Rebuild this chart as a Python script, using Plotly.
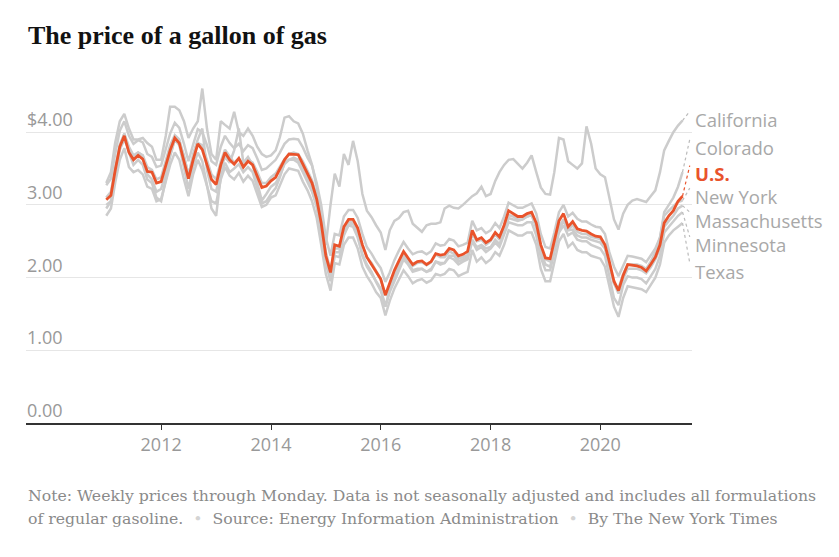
import plotly.graph_objects as go
import pandas as pd

# Monthly values (first of month), Jan 2011 - Jul 2021, dollars per gallon
start_month = "2011-01-01"

us = [
    3.07, 3.13, 3.47, 3.80, 3.95, 3.72, 3.62, 3.68, 3.63, 3.46, 3.45, 3.30,
    3.32, 3.55, 3.75, 3.92, 3.85, 3.60, 3.36, 3.62, 3.84, 3.76, 3.56, 3.35,
    3.28, 3.55, 3.72, 3.62, 3.56, 3.64, 3.52, 3.60, 3.55, 3.40, 3.24, 3.26,
    3.33, 3.38, 3.50, 3.62, 3.70, 3.70, 3.69, 3.56, 3.42, 3.30, 3.08, 2.75,
    2.30, 2.07, 2.45, 2.43, 2.70, 2.80, 2.80, 2.68, 2.45, 2.28, 2.18, 2.08,
    1.98, 1.76, 1.93, 2.10, 2.23, 2.36, 2.27, 2.18, 2.22, 2.23, 2.18, 2.22,
    2.33, 2.31, 2.32, 2.40, 2.38, 2.30, 2.32, 2.36, 2.65, 2.52, 2.55, 2.48,
    2.52, 2.62, 2.56, 2.72, 2.92, 2.88, 2.84, 2.84, 2.88, 2.90, 2.75, 2.45,
    2.27, 2.26, 2.50, 2.78, 2.88, 2.70, 2.77, 2.67, 2.65, 2.64, 2.60, 2.57,
    2.56, 2.45, 2.22, 1.95, 1.82, 2.03, 2.18, 2.17, 2.16, 2.14, 2.09, 2.18,
    2.28, 2.45, 2.75, 2.85, 2.92, 3.05, 3.12,
]

california = [
    3.30, 3.45, 3.85, 4.15, 4.25, 4.05, 3.90, 3.90, 3.92, 3.85, 3.80, 3.62,
    3.62, 3.95, 4.35, 4.35, 4.30, 4.15, 3.92, 4.05, 4.15, 4.60, 4.05, 3.70,
    3.62, 4.15, 4.10, 4.05, 4.28, 4.00, 3.95, 4.05, 3.95, 3.80, 3.70, 3.66,
    3.68, 3.75, 3.93, 4.20, 4.22, 4.15, 4.12, 3.98, 3.75, 3.55, 3.25, 2.85,
    2.45, 3.00, 3.43, 3.25, 3.70, 3.55, 3.88, 3.60, 3.15, 2.92, 2.83, 2.72,
    2.62, 2.38, 2.65, 2.78, 2.82, 2.90, 2.92, 2.74, 2.68, 2.63, 2.72, 2.74,
    2.74, 2.76, 2.95, 2.99, 2.96, 2.95, 3.00, 3.06, 3.12, 3.16, 3.25, 3.12,
    3.15, 3.33, 3.45, 3.55, 3.62, 3.63, 3.56, 3.50, 3.58, 3.68, 3.45, 3.24,
    3.15, 3.14, 3.45, 3.92, 3.90, 3.60, 3.55, 3.50, 3.57, 4.08, 3.84, 3.50,
    3.42, 3.38, 3.10, 2.80, 2.66, 2.88, 3.00, 3.06, 3.08, 3.06, 3.04, 3.12,
    3.20, 3.45, 3.75, 3.88, 4.00, 4.09, 4.16,
]

colorado = [
    3.00, 3.05, 3.40, 3.78, 3.98, 3.72, 3.55, 3.62, 3.55, 3.35, 3.30, 3.10,
    3.05, 3.35, 3.68, 3.90, 3.82, 3.50, 3.22, 3.52, 3.72, 3.60, 3.28, 2.95,
    2.85, 3.40, 3.58, 3.45, 3.50, 3.56, 3.45, 3.52, 3.45, 3.22, 3.02, 3.05,
    3.15, 3.23, 3.38, 3.58, 3.62, 3.62, 3.58, 3.45, 3.30, 3.18, 2.98, 2.62,
    2.20, 1.95, 2.30, 2.28, 2.58, 2.72, 2.70, 2.55, 2.32, 2.18, 2.08, 1.94,
    1.82, 1.60, 1.80, 1.95, 2.10, 2.25, 2.18, 2.08, 2.10, 2.12, 2.08, 2.10,
    2.22, 2.20, 2.20, 2.30, 2.30, 2.22, 2.25, 2.28, 2.52, 2.42, 2.45, 2.40,
    2.42, 2.52, 2.46, 2.62, 2.82, 2.80, 2.78, 2.80, 2.84, 2.86, 2.68, 2.35,
    2.18, 2.15, 2.40, 2.66, 2.78, 2.65, 2.66, 2.58, 2.55, 2.55, 2.52, 2.50,
    2.48, 2.40, 2.15, 1.92, 1.85, 2.05, 2.18, 2.18, 2.18, 2.16, 2.12, 2.22,
    2.35, 2.55, 2.90, 3.00, 3.10, 3.25, 3.45,
]

new_york = [
    3.27, 3.36, 3.70, 4.02, 4.15, 3.95, 3.84, 3.89, 3.86, 3.70, 3.66, 3.52,
    3.54, 3.77, 3.98, 4.13, 4.06, 3.84, 3.60, 3.83, 4.04, 4.00, 3.82, 3.60,
    3.55, 3.80, 3.95, 3.85, 3.78, 3.84, 3.74, 3.82, 3.78, 3.64, 3.48, 3.50,
    3.56, 3.62, 3.72, 3.84, 3.90, 3.91, 3.90, 3.79, 3.65, 3.54, 3.30, 3.00,
    2.55, 2.30, 2.60, 2.58, 2.84, 2.93, 2.93, 2.82, 2.60, 2.42, 2.33, 2.22,
    2.13, 1.94, 2.07, 2.24, 2.37, 2.49, 2.40, 2.32, 2.35, 2.36, 2.32, 2.36,
    2.47, 2.44, 2.45, 2.53, 2.51, 2.43, 2.45, 2.48, 2.78, 2.65, 2.68, 2.61,
    2.65, 2.75, 2.68, 2.84, 3.03, 3.00, 2.96, 2.96, 2.99, 3.02, 2.88, 2.60,
    2.42, 2.40, 2.62, 2.90, 3.00, 2.84, 2.89, 2.81, 2.77, 2.77, 2.73, 2.70,
    2.69, 2.60, 2.35, 2.15, 2.02, 2.17, 2.30, 2.29, 2.28, 2.26, 2.21, 2.30,
    2.40, 2.55, 2.85, 2.92, 2.98, 3.04, 3.06,
]

massachusetts = [
    3.10, 3.18, 3.50, 3.83, 3.98, 3.80, 3.68, 3.72, 3.68, 3.52, 3.48, 3.35,
    3.38, 3.60, 3.82, 3.96, 3.90, 3.66, 3.42, 3.64, 3.85, 3.82, 3.62, 3.42,
    3.35, 3.60, 3.76, 3.66, 3.58, 3.64, 3.56, 3.62, 3.58, 3.46, 3.30, 3.30,
    3.38, 3.43, 3.53, 3.63, 3.70, 3.72, 3.70, 3.60, 3.47, 3.34, 3.12, 2.82,
    2.35, 2.10, 2.40, 2.40, 2.66, 2.76, 2.76, 2.65, 2.45, 2.28, 2.20, 2.10,
    1.98, 1.75, 1.90, 2.07, 2.20, 2.32, 2.25, 2.16, 2.20, 2.21, 2.17, 2.21,
    2.32, 2.28, 2.28, 2.36, 2.33, 2.26, 2.28, 2.31, 2.60, 2.50, 2.52, 2.45,
    2.50, 2.60, 2.52, 2.67, 2.86, 2.84, 2.80, 2.80, 2.84, 2.86, 2.72, 2.42,
    2.25, 2.22, 2.45, 2.70, 2.80, 2.66, 2.72, 2.63, 2.60, 2.60, 2.56, 2.55,
    2.53, 2.42, 2.18, 1.92, 1.78, 1.98, 2.12, 2.12, 2.12, 2.10, 2.06, 2.14,
    2.25, 2.40, 2.70, 2.78, 2.85, 2.95, 2.99,
]

minnesota = [
    2.95, 3.05, 3.42, 3.76, 3.90, 3.75, 3.65, 3.72, 3.68, 3.42, 3.35, 3.18,
    3.22, 3.45, 3.70, 3.90, 3.85, 3.68, 3.40, 3.70, 3.90, 4.05, 3.48, 3.22,
    3.18, 3.50, 3.66, 3.58, 3.75, 4.05, 3.58, 3.66, 3.55, 3.30, 3.06, 3.15,
    3.25, 3.30, 3.40, 3.56, 3.62, 3.65, 3.62, 3.50, 3.35, 3.22, 2.98, 2.62,
    2.25, 1.98, 2.35, 2.35, 2.62, 2.72, 2.75, 2.58, 2.30, 2.15, 2.05, 1.95,
    1.85, 1.60, 1.85, 2.02, 2.15, 2.30, 2.20, 2.10, 2.12, 2.12, 2.08, 2.12,
    2.22, 2.18, 2.20, 2.28, 2.25, 2.18, 2.22, 2.25, 2.50, 2.38, 2.42, 2.35,
    2.40, 2.48, 2.42, 2.58, 2.76, 2.74, 2.72, 2.72, 2.76, 2.76, 2.58, 2.28,
    2.10, 2.10, 2.35, 2.62, 2.72, 2.58, 2.62, 2.52, 2.50, 2.50, 2.45, 2.42,
    2.40, 2.30, 2.02, 1.72, 1.62, 1.90, 2.02, 2.00, 2.00, 1.98, 1.92, 2.02,
    2.12, 2.30, 2.62, 2.70, 2.78, 2.85, 2.90,
]

texas = [
    2.85, 2.95, 3.30, 3.62, 3.78, 3.52, 3.45, 3.48, 3.42, 3.25, 3.22, 3.05,
    3.08, 3.32, 3.55, 3.72, 3.62, 3.35, 3.12, 3.42, 3.62, 3.48, 3.25, 3.05,
    3.02, 3.35, 3.52, 3.40, 3.35, 3.44, 3.32, 3.40, 3.33, 3.15, 2.97, 3.00,
    3.10, 3.13, 3.28, 3.42, 3.50, 3.48, 3.47, 3.32, 3.20, 3.05, 2.82, 2.45,
    2.05, 1.82, 2.20, 2.18, 2.45, 2.55, 2.55, 2.40, 2.15, 2.02, 1.92, 1.80,
    1.72, 1.48, 1.68, 1.85, 1.98, 2.10, 2.02, 1.92, 1.96, 1.98, 1.93, 1.96,
    2.05, 2.03, 2.05, 2.12, 2.10, 2.02, 2.05, 2.08, 2.38, 2.22, 2.28, 2.20,
    2.25, 2.35, 2.30, 2.45, 2.65, 2.62, 2.58, 2.58, 2.62, 2.62, 2.45, 2.12,
    1.95, 1.95, 2.22, 2.50, 2.60, 2.42, 2.48, 2.38, 2.35, 2.35, 2.30, 2.28,
    2.26, 2.15, 1.88, 1.60, 1.46, 1.72, 1.88, 1.87, 1.86, 1.84, 1.80, 1.90,
    2.00, 2.18, 2.48, 2.58, 2.65, 2.70, 2.75,
]

state_names = ["California", "Colorado", "New York", "Massachusetts", "Minnesota", "Texas"]
state_values = [california, colorado, new_york, massachusetts, minnesota, texas]

year_ticks = [2012, 2014, 2016, 2018, 2020]
price_ticks = [0, 1, 2, 3, 4]
price_tick_text = ["0.00", "1.00", "2.00", "3.00", "$4.00"]

# label placement (layout)
label_order = ["California", "Colorado", "U.S.", "New York", "Massachusetts", "Minnesota", "Texas"]
label_y = [4.175, 3.79, 3.43, 3.12, 2.79, 2.45, 2.09]

for s in state_values + [us]:
    assert len(s) == 127, len(s)

dates = pd.date_range(start_month, periods=len(us), freq="MS")

GREY = "#cccccc"
RED = "#e9532b"
LABEL_GREY = "#a8a8a8"
SANS = "Open Sans"

fig = go.Figure()
for name, vals in zip(state_names, state_values):
    fig.add_trace(go.Scatter(x=dates, y=vals, mode="lines", name=name,
                             line=dict(color=GREY, width=2.5), hoverinfo="skip",
                             showlegend=False))
fig.add_trace(go.Scatter(x=dates, y=us, mode="lines", name="U.S.",
                         line=dict(color=RED, width=2.8), hoverinfo="skip",
                         showlegend=False))

end_values = dict(zip(state_names, [v[-1] for v in state_values]))
end_values["U.S."] = us[-1]
conn_x = pd.Timestamp("2021-08-18")

shapes = []
annotations = []
for name, ly in zip(label_order, label_y):
    col = RED if name == "U.S." else "#bbbbbb"
    shapes.append(dict(type="line", xref="x", yref="y", x0=dates[-1], y0=end_values[name],
                       x1=conn_x, y1=ly + 0.11, line=dict(color=col, width=1.2, dash="dot")))
    txt = "<b>U.S.</b>" if name == "U.S." else name
    annotations.append(dict(xref="paper", yref="y", x=1, xshift=1, y=ly, xanchor="left",
                            yanchor="middle", text=txt, showarrow=False,
                            font=dict(family=SANS, size=18.5,
                                      color=RED if name == "U.S." else LABEL_GREY)))

for v, t in zip(price_ticks, price_tick_text):
    annotations.append(dict(xref="paper", yref="y", x=0, xshift=0, y=v, yanchor="bottom",
                            xanchor="left", text=t, showarrow=False, borderpad=0,
                            font=dict(family=SANS, size=18, color="#999999")))

annotations.append(dict(xref="paper", yref="paper", x=0, xshift=0, y=1.11, xanchor="left",
                        yanchor="middle", showarrow=False,
                        text="<b>The price of a gallon of gas</b>",
                        font=dict(family="Liberation Serif", size=26, color="#121212")))

dot = "<span style='color:#d4d4d4'>\u2022</span>"
foot_font = dict(family="DejaVu Serif", size=15.7, color="#8a8a8a")
annotations.append(dict(xref="paper", yref="paper", x=0, xshift=0, y=-0.207, xanchor="left",
                        yanchor="middle", showarrow=False,
                        text="Note: Weekly prices through Monday. Data is not seasonally adjusted and includes all formulations",
                        font=foot_font))
annotations.append(dict(xref="paper", yref="paper", x=0, xshift=0, y=-0.273, xanchor="left",
                        yanchor="middle", showarrow=False,
                        text=f"of regular gasoline.  {dot}  Source: Energy Information Administration  {dot}  By The New York Times",
                        font=foot_font))

fig.update_layout(
    width=839, height=557,
    margin=dict(l=26, r=147, t=73.5, b=134.3, pad=0),
    paper_bgcolor="white", plot_bgcolor="white",
    xaxis=dict(range=[pd.Timestamp("2009-07-16"), pd.Timestamp("2021-09-02")],
               showgrid=False, zeroline=False, showline=True, linecolor="#333333", linewidth=1.5,
               ticks="outside", ticklen=5, tickwidth=1, tickcolor="#333333",
               tickvals=[pd.Timestamp(f"{y}-01-01") for y in year_ticks],
               ticktext=[str(y) for y in year_ticks],
               tickfont=dict(family=SANS, size=18, color="#999999")),
    yaxis=dict(range=[0, 4.8], tickvals=price_ticks[1:], showticklabels=False,
               showgrid=True, gridcolor="#e6e6e6", gridwidth=1, zeroline=False, showline=False),
    shapes=shapes, annotations=annotations,
    showlegend=False,
)

fig.write_html("out.html")
